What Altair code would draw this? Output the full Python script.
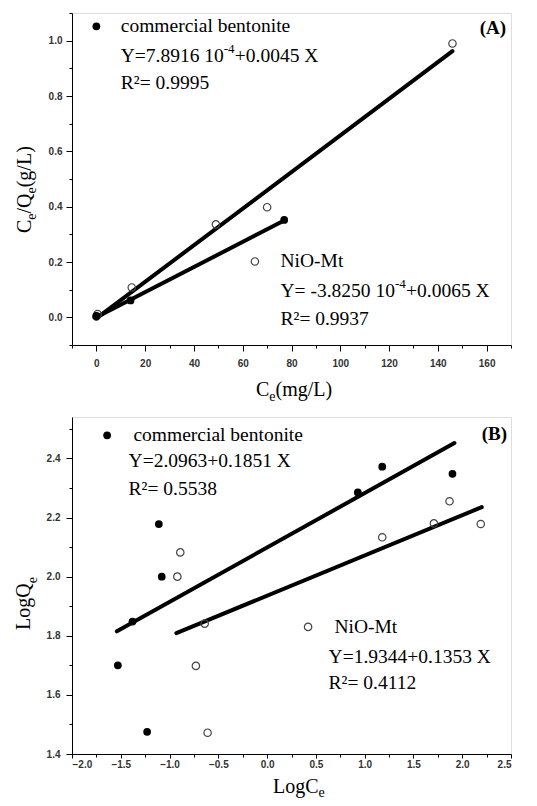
import altair as alt
import pandas as pd

# ---------------- Panel (A) : linear Langmuir ----------------
a_ben_ce = [0, 14, 77]
a_ben_ratio = [0.005, 0.061, 0.352]
a_nio_ce = [0, 0.5, 14.5, 49, 70, 146]
a_nio_ratio = [0.003, 0.012, 0.108, 0.336, 0.398, 0.99]
a_fit_ben_ce = [0, 77]
a_fit_ben_ratio = [0.0, 0.35]
a_fit_nio_ce = [0, 146]
a_fit_nio_ratio = [-0.004, 0.962]
a_xticks = [-10, 0, 10, 20, 30, 40, 50, 60, 70, 80, 90, 100, 110, 120, 130, 140, 150, 160, 170]
a_yticks = [-0.1, 0.0, 0.1, 0.2, 0.3, 0.4, 0.5, 0.6, 0.7, 0.8, 0.9, 1.0, 1.1]

# ---------------- Panel (B) : Freundlich ----------------
b_ben_logce = [-1.53, -1.38, -1.23, -1.11, -1.08, 0.93, 1.18, 1.90]
b_ben_logqe = [1.70, 1.848, 1.475, 2.178, 2.0, 2.285, 2.372, 2.348]
b_nio_logce = [-0.92, -0.89, -0.73, -0.64, -0.61, 1.18, 1.71, 1.87, 2.19]
b_nio_logqe = [2.0, 2.082, 1.698, 1.841, 1.472, 2.133, 2.18, 2.255, 2.178]
b_fit_ben_logce = [-1.54, 1.92]
b_fit_ben_logqe = [1.815, 2.452]
b_fit_nio_logce = [-0.93, 2.20]
b_fit_nio_logqe = [1.809, 2.235]
b_xticks = [-2.0, -1.75, -1.5, -1.25, -1.0, -0.75, -0.5, -0.25, 0.0, 0.25, 0.5, 0.75,
            1.0, 1.25, 1.5, 1.75, 2.0, 2.25, 2.5]
b_yticks = [1.4, 1.5, 1.6, 1.7, 1.8, 1.9, 2.0, 2.1, 2.2, 2.3, 2.4, 2.5]

SERIF = "Liberation Serif"
SANS = "Liberation Sans"
FS = 19.5      # annotation font size
SUP = 13       # superscript font size

# annotation pieces: (x, y, text, fontSize, dx, dy)
a_notes = [
    (10, 1.052, "commercial bentonite", FS, 0, 0),
    (10, 0.943, "Y=7.8916 10", FS, 0, 0),
    (10, 0.943, "-4", SUP, 103, -7),
    (10, 0.943, "+0.0045 X", FS, 114, 0),
    (10, 0.846, "R\u00b2= 0.9995", FS, 0, 0),
    (75.5, 0.202, "NiO-Mt", FS, 0, 0),
    (75.5, 0.094, "Y= -3.8250 10", FS, 0, 0),
    (75.5, 0.094, "-4", SUP, 114.5, -7),
    (75.5, 0.094, "+0.0065 X", FS, 125.5, 0),
    (75.5, -0.006, "R\u00b2= 0.9937", FS, 0, 0),
]
b_notes = [
    (-1.37, 2.478, "commercial bentonite", FS, 0, 0),
    (-1.42, 2.39, "Y=2.0963+0.1851 X", FS, 0, 0),
    (-1.42, 2.298, "R\u00b2= 0.5538", FS, 0, 0),
    (0.69, 1.83, "NiO-Mt", FS, 0, 0),
    (0.63, 1.729, "Y=1.9344+0.1353 X", FS, 0, 0),
    (0.63, 1.64, "R\u00b2= 0.4112", FS, 0, 0),
]
a_legend_marks = [(0, 1.052, "ben"), (65, 0.202, "nio")]
b_legend_marks = [(-1.64, 2.478, "ben"), (0.42, 1.83, "nio")]

# axis titles as text pieces (pixel positions relative to plot area): (x, y, text, fontSize, angle)
a_xtitle = [(184, 383, "C", 20, 0), (197.3, 388, "e", 14, 0), (203.5, 383, "(mg/L)", 20, 0)]
a_ytitle = [(-41, 220, "C", 20, 270), (-36, 206.7, "e", 14, 270), (-41, 200.5, "/Q", 20, 270),
            (-36, 180.5, "e", 14, 270), (-41, 174.3, "(g/L)", 20, 270)]
b_xtitle = [(201, 376, "LogC", 20, 0), (246.6, 380, "e", 14, 0)]
b_ytitle = [(-42, 213, "LogQ", 20, 270), (-35, 166.3, "e", 14, 270)]


def make_panel(ben_x, ben_y, nio_x, nio_y, fb_x, fb_y, fn_x, fn_y,
               xdom, ydom, xticks, yticks, xmajor, ymajor, xfmt,
               notes, legend_marks, titles, tag, tag_pos, w, h,
               xpad, ypad, xtick):
    def X():
        return alt.X("x:Q",
                     scale=alt.Scale(domain=xdom, nice=False, zero=False),
                     axis=alt.Axis(values=xticks, title=None, format=xfmt,
                                   labelExpr=f"{xmajor} ? datum.label : ''",
                                   tickSize={"condition": {"test": xmajor, "value": xtick}, "value": 3},
                                   grid=False, domainColor="black", tickColor="black",
                                   labelFont=SANS, labelFontWeight="bold", labelFontSize=10,
                                   labelColor="#333", labelPadding=xpad))

    def Y():
        return alt.Y("y:Q",
                     scale=alt.Scale(domain=ydom, nice=False, zero=False),
                     axis=alt.Axis(values=yticks, title=None, format=".1f",
                                   labelExpr=f"{ymajor} ? datum.label : ''",
                                   tickSize={"condition": {"test": ymajor, "value": 6}, "value": 3},
                                   grid=False, domainColor="black", tickColor="black",
                                   labelFont=SANS, labelFontWeight="bold", labelFontSize=10,
                                   labelColor="#333", labelPadding=ypad))

    fits = pd.concat([
        pd.DataFrame({"x": fb_x, "y": fb_y, "s": "ben"}),
        pd.DataFrame({"x": fn_x, "y": fn_y, "s": "nio"}),
    ])
    layers = [alt.Chart(fits).mark_line(color="black", strokeWidth=4, strokeCap="round").encode(
        x=X(), y=Y(), detail="s:N")]

    open_style = dict(shape="circle", filled=False, color="#444", strokeWidth=1.2, size=55, opacity=1)
    fill_style = dict(shape="circle", filled=True, color="black", size=60, opacity=1)

    layers.append(alt.Chart(pd.DataFrame({"x": nio_x, "y": nio_y})).mark_point(**open_style)
                  .encode(x=X(), y=Y()))
    layers.append(alt.Chart(pd.DataFrame({"x": ben_x, "y": ben_y})).mark_point(**fill_style)
                  .encode(x=X(), y=Y()))
    for lx, ly, kind in legend_marks:
        st = fill_style if kind == "ben" else open_style
        layers.append(alt.Chart(pd.DataFrame({"x": [lx], "y": [ly]})).mark_point(**st)
                      .encode(x=X(), y=Y()))

    for nx, ny, t, fs, dx, dy in notes:
        layers.append(alt.Chart(pd.DataFrame({"x": [nx], "y": [ny], "t": [t]})).mark_text(
            font=SERIF, fontSize=fs, align="left", baseline="middle", color="black", dx=dx, dy=dy
        ).encode(x=X(), y=Y(), text="t:N"))

    layers.append(alt.Chart(pd.DataFrame({"x": [tag_pos[0]], "y": [tag_pos[1]], "t": [tag]})).mark_text(
        font=SERIF, fontSize=19, fontWeight="bold", align="right", baseline="middle",
        color="black").encode(x=X(), y=Y(), text="t:N"))

    for px, py, t, fs, ang in titles:
        kw = dict(font=SERIF, fontSize=fs, align="left", baseline="alphabetic", color="black", x=px, y=py)
        if ang:
            kw["angle"] = ang
        layers.append(alt.Chart(pd.DataFrame({"t": [t]})).mark_text(**kw).encode(text="t:N"))

    return alt.layer(*layers).properties(width=w, height=h)


panel_a = make_panel(
    a_ben_ce, a_ben_ratio, a_nio_ce, a_nio_ratio,
    a_fit_ben_ce, a_fit_ben_ratio, a_fit_nio_ce, a_fit_nio_ratio,
    [-10, 170], [-0.1, 1.1], a_xticks, a_yticks,
    "round(datum.value) % 20 == 0", "round(datum.value*10) % 2 == 0", "d",
    a_notes, a_legend_marks, a_xtitle + a_ytitle,
    "(A)", (168, 1.045), 439, 332, 7, 4, 6)

panel_b = make_panel(
    b_ben_logce, b_ben_logqe, b_nio_logce, b_nio_logqe,
    b_fit_ben_logce, b_fit_ben_logqe, b_fit_nio_logce, b_fit_nio_logqe,
    [-2.0, 2.5], [1.4, 2.54], b_xticks, b_yticks,
    "round(datum.value*4) % 2 == 0", "round(datum.value*10) % 2 == 0", ".1f",
    b_notes, b_legend_marks, b_xtitle + b_ytitle,
    "(B)", (2.46, 2.481), 439, 337, 1, 6, 4)

chart = alt.vconcat(panel_a, panel_b, spacing=11).properties(
    padding={"left": 5, "top": 4, "right": 5, "bottom": 0}
).configure_view(stroke="black", strokeWidth=1.5).configure(background="white")

chart.save("out.html", embed_options={"renderer": "svg", "actions": False})
